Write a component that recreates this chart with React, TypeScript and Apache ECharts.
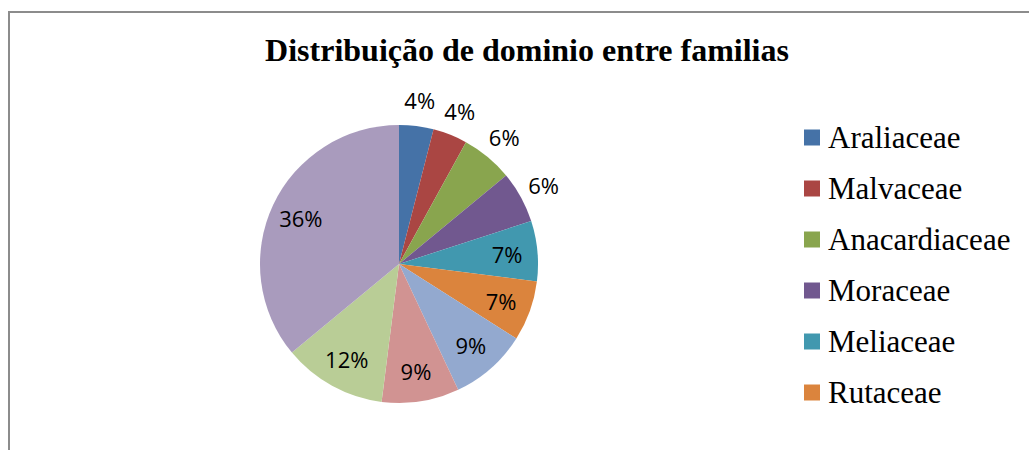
import React, { useEffect, useRef } from "react";
import * as echarts from "echarts";

const titleText = "Distribuição de dominio entre familias";
const families = [
  "Araliaceae",
  "Malvaceae",
  "Anacardiaceae",
  "Moraceae",
  "Meliaceae",
  "Rutaceae",
  "Família 7",
  "Família 8",
  "Família 9",
  "Família 10",
];
const shares = [4, 4, 6, 6, 7, 7, 9, 9, 12, 36];
const colors = [
  "#4572A7",
  "#AA4643",
  "#89A54E",
  "#71588F",
  "#4198AF",
  "#DB843D",
  "#93A9CF",
  "#D19392",
  "#B9CD96",
  "#A99BBD",
];
const legendShown = families.slice(0, 6);
const outsideLabelIdx = [0, 1, 2, 3];

export default function App() {
  const ref = useRef<HTMLDivElement>(null);
  useEffect(() => {
    document.body.style.margin = "0";
    if (!ref.current) return;
    const chart = echarts.init(ref.current, undefined, { renderer: "svg" });
    const center = [399, 264];
    const labelFont = {
      fontFamily: "Open Sans",
      fontSize: 22,
      color: "#000",
    };
    chart.setOption({
      animation: false,
      color: colors,
      title: {
        text: titleText,
        left: 522,
        top: 29,
        textAlign: "center",
        textStyle: {
          fontFamily: "Liberation Serif",
          fontWeight: "bold",
          fontSize: 32,
          color: "#000",
        },
      },
      legend: {
        orient: "vertical",
        left: 804,
        top: 122,
        padding: 0,
        data: legendShown,
        icon: "rect",
        itemWidth: 16,
        itemHeight: 16,
        itemGap: 20,
        selectedMode: false,
        textStyle: {
          fontFamily: "Liberation Serif",
          fontSize: 31,
          lineHeight: 31,
          color: "#000",
          padding: [0, 0, 0, 3],
        },
      },
      graphic: [
        {
          type: "rect",
          shape: { x: 9, y: 12, width: 1100, height: 600 },
          style: { fill: "none", stroke: "#8c8c8c", lineWidth: 2 },
          silent: true,
        },
      ],
      series: [
        {
          type: "pie",
          center,
          radius: 139,
          startAngle: 90,
          clockwise: true,
          silent: true,
          label: { show: false },
          labelLine: { show: false },
          itemStyle: { borderWidth: 0 },
          data: families.map((n, i) => ({
            name: n,
            value: shares[i],
            itemStyle: { color: colors[i] },
          })),
        },
        {
          type: "pie",
          center,
          radius: [72, 139],
          startAngle: 90,
          clockwise: true,
          silent: true,
          avoidLabelOverlap: false,
          itemStyle: { color: "rgba(0,0,0,0)", borderWidth: 0 },
          labelLine: { show: false },
          label: { show: true, position: "inside", formatter: "{c}%", ...labelFont },
          data: families.map((n, i) => ({
            name: n,
            value: shares[i],
            label: { show: !outsideLabelIdx.includes(i) },
          })),
        },
        {
          type: "pie",
          center,
          radius: [139, 185],
          startAngle: 90,
          clockwise: true,
          silent: true,
          avoidLabelOverlap: false,
          itemStyle: { color: "rgba(0,0,0,0)", borderWidth: 0 },
          labelLine: { show: false },
          label: { show: true, position: "inside", formatter: "{c}%", ...labelFont },
          data: families.map((n, i) => ({
            name: n,
            value: shares[i],
            label: { show: outsideLabelIdx.includes(i) },
          })),
        },
      ],
    });
    return () => chart.dispose();
  }, []);
  return <div ref={ref} style={{ width: 1029, height: 450 }} />;
}
